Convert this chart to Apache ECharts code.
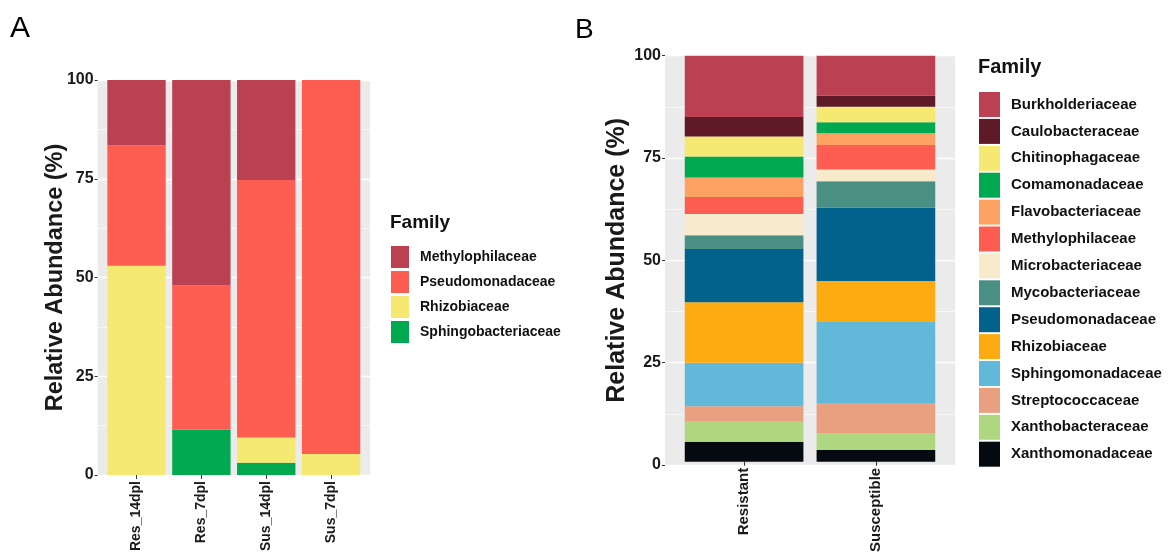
<!DOCTYPE html>
<html><head><meta charset="utf-8">
<script src="https://cdn.jsdelivr.net/npm/echarts@6/dist/echarts.min.js"></script>
<style>
html,body{margin:0;padding:0;background:#fff;width:1170px;height:555px;overflow:hidden;}
#a{position:absolute;left:0;top:0;width:570px;height:555px;}
#b{position:absolute;left:570px;top:0;width:600px;height:555px;}
</style></head><body>
<div id="a"></div><div id="b"></div>
<script>
// ---------- Panel A data ----------
const samplesA = ['Res_14dpl', 'Res_7dpl', 'Sus_14dpl', 'Sus_7dpl'];
const familiesA = ['Methylophilaceae', 'Pseudomonadaceae', 'Rhizobiaceae', 'Sphingobacteriaceae'];
const methylophilaceaeA = [16.5, 52.0, 25.3, 0];
const pseudomonadaceaeA = [30.5, 36.5, 65.2, 94.7];
const rhizobiaceaeA = [53.0, 0, 6.4, 5.3];
const sphingobacteriaceaeA = [0, 11.5, 3.1, 0];
const colorsA = ['#BB4152', '#FE5D52', '#F6E971', '#00A84F'];

// ---------- Panel B data ----------
const samplesB = ['Resistant', 'Susceptible'];
const familiesB = ['Burkholderiaceae', 'Caulobacteraceae', 'Chitinophagaceae', 'Comamonadaceae',
  'Flavobacteriaceae', 'Methylophilaceae', 'Microbacteriaceae', 'Mycobacteriaceae',
  'Pseudomonadaceae', 'Rhizobiaceae', 'Sphingomonadaceae', 'Streptococcaceae',
  'Xanthobacteraceae', 'Xanthomonadaceae'];
const burkholderiaceaeB = [15.1, 9.8];
const caulobacteraceaeB = [4.8, 2.8];
const chitinophagaceaeB = [4.9, 3.8];
const comamonadaceaeB = [5.2, 2.7];
const flavobacteriaceaeB = [4.8, 2.9];
const methylophilaceaeB = [4.2, 6.0];
const microbacteriaceaeB = [5.2, 2.9];
const mycobacteriaceaeB = [3.4, 6.5];
const pseudomonadaceaeB = [13.1, 18.1];
const rhizobiaceaeB = [14.9, 9.9];
const sphingomonadaceaeB = [10.7, 20.1];
const streptococcaceaeB = [3.8, 7.4];
const xanthobacteraceaeB = [5.0, 4.2];
const xanthomonadaceaeB = [4.9, 2.9];
const colorsB = ['#BB4152', '#5E1A26', '#F6E971', '#00A84F', '#FDA263', '#FE5D52', '#F8EBCB',
  '#4A8F84', '#02628B', '#FDAB11', '#62B8D8', '#E8A080', '#AED77F', '#050A10'];

const valuesA = [methylophilaceaeA, pseudomonadaceaeA, rhizobiaceaeA, sphingobacteriaceaeA];
const valuesB = [burkholderiaceaeB, caulobacteraceaeB, chitinophagaceaeB, comamonadaceaeB,
  flavobacteriaceaeB, methylophilaceaeB, microbacteriaceaeB, mycobacteriaceaeB,
  pseudomonadaceaeB, rhizobiaceaeB, sphingomonadaceaeB, streptococcaceaeB,
  xanthobacteraceaeB, xanthomonadaceaeB];

const FONT = '"Liberation Sans", Arial, Helvetica, sans-serif';
const TXT = '#1a1a1a';

function buildOption(cfg) {
  const n = cfg.samples.length;
  // ggplot-style discrete expansion: 0.6 band on each side of the outer bar centres
  const band = cfg.gridW / (n - 1 + 1.2);
  const innerLeft = cfg.gridLeft + 0.1 * band;
  const innerW = band * n;
  // ggplot stacks the first family on top -> add series bottom-up
  const series = [];
  for (let k = cfg.families.length - 1; k >= 0; k--) {
    series.push({
      name: cfg.families[k],
      type: 'bar',
      stack: 'total',
      xAxisIndex: 1, yAxisIndex: 1,
      barCategoryGap: '10%',
      itemStyle: { color: cfg.colors[k] },
      emphasis: { disabled: true },
      data: cfg.values[k]
    });
  }
  return {
    animation: false,
    textStyle: { fontFamily: FONT },
    title: [
      { text: cfg.letter, left: cfg.letterLeft, top: cfg.letterTop, padding: 0,
        textStyle: { fontFamily: FONT, fontSize: cfg.letterSize, fontWeight: 'normal', color: '#000' } },
      { text: 'Family', left: cfg.famLeft, top: cfg.famTop, padding: 0,
        textStyle: { fontFamily: FONT, fontSize: cfg.famSize, fontWeight: 'bold', color: '#111' } }
    ],
    legend: {
      orient: 'vertical', left: cfg.legLeft, top: cfg.legTop, padding: 0,
      itemWidth: cfg.legW, itemHeight: cfg.legH, itemGap: cfg.legGap,
      icon: 'rect', selectedMode: false,
      data: cfg.families,
      textStyle: { fontFamily: FONT, fontSize: cfg.legFont, fontWeight: 'bold', color: '#111',
        padding: [0, 0, 0, 6] }
    },
    grid: [
      { left: cfg.gridLeft, top: cfg.gridTop, width: cfg.gridW, height: cfg.gridH,
        show: true, backgroundColor: '#EBEBEB', borderWidth: 0 },
      { left: innerLeft, top: cfg.gridTop, width: innerW, height: cfg.gridH,
        show: false }
    ],
    xAxis: [
      { gridIndex: 0, type: 'value', min: 0, max: 1, show: false },
      { gridIndex: 1, type: 'category', data: cfg.samples,
        axisLine: { show: false },
        splitLine: { show: false },
        axisTick: { show: true, alignWithLabel: true, length: 4, lineStyle: { color: '#333' } },
        axisLabel: { interval: 0, rotate: 90, margin: 6,
          fontFamily: FONT, fontSize: cfg.xFont, fontWeight: 'bold', color: TXT } }
    ],
    yAxis: [
      { gridIndex: 0, type: 'value', min: 0, max: 100, interval: 25,
        name: 'Relative Abundance (%)', nameLocation: 'middle', nameGap: cfg.nameGap,
        nameMoveOverlap: false,
        nameTextStyle: { fontFamily: FONT, fontSize: cfg.nameSize, fontWeight: 'bold', color: TXT },
        axisLine: { show: false, onZero: false },
        axisTick: { show: true, length: 3, lineStyle: { color: '#333' } },
        axisLabel: { fontFamily: FONT, fontSize: 16, fontWeight: 'bold', color: TXT, margin: 4 },
        splitLine: { show: true, lineStyle: { color: '#FFFFFF', width: 1.3 } },
        minorTick: { show: false, splitNumber: 2 },
        minorSplitLine: { show: true, lineStyle: { color: '#FFFFFF', width: 0.6 } } },
      { gridIndex: 1, type: 'value', min: 0, max: 100, interval: 25, show: false,
        splitLine: { show: false } }
    ],
    series: series
  };
}

const chartA = echarts.init(document.getElementById('a'), null, { renderer: 'canvas' });
chartA.setOption(buildOption({
  samples: samplesA, families: familiesA, values: valuesA, colors: colorsA,
  letter: 'A', letterLeft: 10, letterTop: 14, letterSize: 30,
  famLeft: 390, famTop: 213, famSize: 19,
  legLeft: 391, legTop: 246, legW: 18, legH: 22, legGap: 3, legFont: 14,
  gridLeft: 97.6, gridTop: 80, gridW: 272.4, gridH: 395,
  xFont: 14, nameGap: 30, nameSize: 23.5
}));

const chartB = echarts.init(document.getElementById('b'), null, { renderer: 'canvas' });
chartB.setOption(buildOption({
  samples: samplesB, families: familiesB, values: valuesB, colors: colorsB,
  letter: 'B', letterLeft: 5, letterTop: 16, letterSize: 28,
  famLeft: 408, famTop: 57, famSize: 20,
  legLeft: 409, legTop: 92, legW: 21, legH: 25, legGap: 1.9, legFont: 15,
  gridLeft: 95, gridTop: 55.7, gridW: 290, gridH: 409.3,
  xFont: 15, nameGap: 35, nameSize: 25
}));
</script>
</body></html>
